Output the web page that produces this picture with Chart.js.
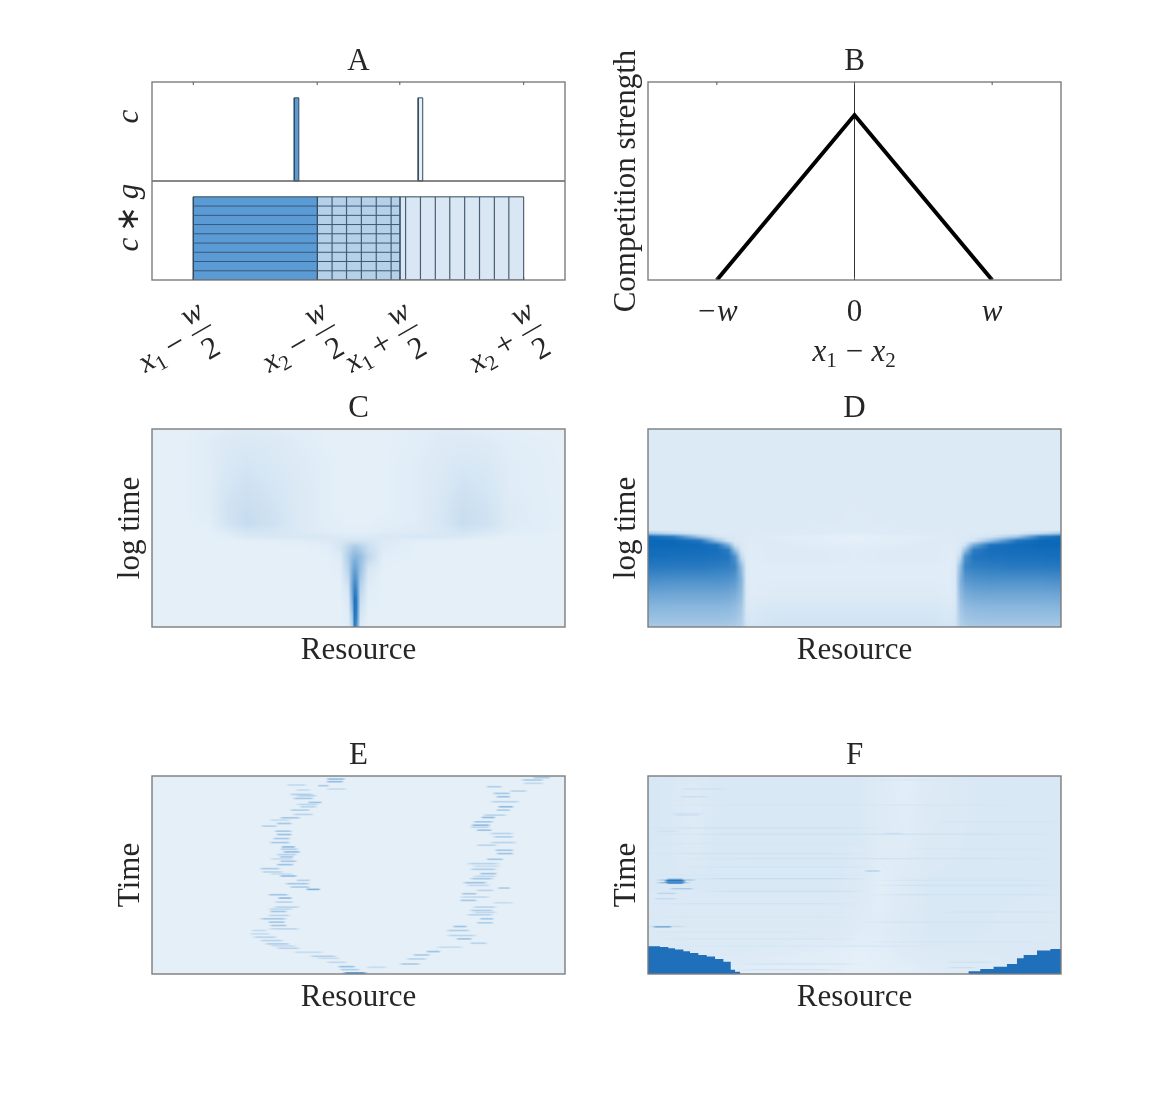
<!DOCTYPE html>
<html>
<head>
<meta charset="utf-8">
<title>Resource competition panels</title>
<script src="https://cdn.jsdelivr.net/npm/chart.js@4"></script>
<style>
  body { margin: 0; background: #fff; }
  #page { position: relative; width: 1172px; height: 1094px; overflow: hidden; }
  canvas { position: absolute; }
</style>
</head>
<body>
<div id="page"></div>
<script>
// Panel A: niche positions, in axis units
const aTicks = [1, 4, 6, 9];
const aTickSubs = ['1', '2', '1', '2'];
const aTickOps = ['\u2212', '\u2212', '+', '+'];
const cPositions = [3.5, 6.5];
const cHalfWidth = 0.055;
const cTop = 1.84;
const gTop = 0.84;
const gRows = [0.747, 0.653, 0.56, 0.467, 0.373, 0.28, 0.187, 0.093];
const gColumns = [4.36, 4.71, 5.07, 5.43, 5.79, 6.14, 6.5, 6.86, 7.21, 7.57, 7.93, 8.29, 8.64];

// Panel B: competition kernel
const bTicks = [-1, 0, 1];
const bTickLabels = ['\u2212w', '0', 'w'];
const kernelX = [-1, 0, 1];
const kernelY = [0, 1, 0];

// Panel C: density (percent of the colour ramp), rows from top to bottom
const cCols = [36, 130, 210, 260, 320, 400, 480, 560, 600, 625, 637, 643, 649, 661, 685, 730, 830, 900, 970, 1040, 1110, 1275];
const cRows = [28, 70, 130, 200, 270, 310, 335, 350, 362, 380, 410, 450, 500, 540, 580, 620];
const cValues = [
  [0, 0, 1, 2, 3, 2, 1, 0, 0, 0, 0, 0, 0, 0, 0, 0, 1, 2, 2, 1, 0, 0],
  [0, 0, 2, 4, 5, 4, 2, 0, 0, 0, 0, 0, 0, 0, 0, 0, 1, 3, 4, 3, 1, 0],
  [0, 0, 2, 5, 7, 5, 3, 1, 0, 0, 0, 0, 0, 0, 0, 0, 2, 4, 6, 5, 2, 0],
  [0, 0, 2, 7, 10, 7, 4, 1, 0, 0, 0, 0, 0, 0, 0, 0, 2, 5, 9, 7, 2, 0],
  [0, 0, 2, 9, 13, 9, 4, 1, 0, 0, 0, 0, 0, 0, 0, 0, 2, 6, 12, 9, 3, 0],
  [0, 0, 1, 8, 14, 10, 4, 1, 1, 0, 0, 0, 0, 0, 0, 1, 2, 6, 13, 10, 3, 0],
  [0, 0, 0, 3, 8, 7, 4, 2, 1, 1, 1, 1, 1, 1, 1, 2, 3, 5, 8, 6, 2, 0],
  [0, 0, 0, 1, 5, 6, 6, 5, 4, 4, 4, 4, 4, 4, 4, 5, 6, 6, 5, 2, 0, 0],
  [0, 0, 0, 0, 0, 1, 2, 4, 6, 8, 8, 8, 8, 8, 7, 4, 1, 1, 0, 0, 0, 0],
  [0, 0, 0, 0, 0, 0, 0, 1, 7, 18, 24, 26, 26, 22, 12, 3, 0, 0, 0, 0, 0, 0],
  [0, 0, 0, 0, 0, 0, 0, 0, 3, 25, 38, 42, 42, 36, 17, 1, 0, 0, 0, 0, 0, 0],
  [0, 0, 0, 0, 0, 0, 0, 0, 1, 20, 48, 58, 56, 34, 6, 0, 0, 0, 0, 0, 0, 0],
  [0, 0, 0, 0, 0, 0, 0, 0, 0, 9, 56, 78, 74, 22, 2, 0, 0, 0, 0, 0, 0, 0],
  [0, 0, 0, 0, 0, 0, 0, 0, 0, 4, 48, 92, 88, 14, 1, 0, 0, 0, 0, 0, 0, 0],
  [0, 0, 0, 0, 0, 0, 0, 0, 0, 2, 32, 90, 85, 8, 0, 0, 0, 0, 0, 0, 0, 0],
  [0, 0, 0, 0, 0, 0, 0, 0, 0, 1, 18, 85, 72, 3, 0, 0, 0, 0, 0, 0, 0, 0]
];

// Panel D
const dCols = [24, 100, 180, 230, 265, 285, 304, 319, 334, 400, 520, 640, 760, 880, 930, 945, 960, 975, 1000, 1050, 1130, 1200, 1262];
const dRows = [28, 200, 300, 330, 340, 350, 362, 375, 390, 410, 440, 480, 520, 560, 600, 620];
const dValues = [
  [4, 4, 4, 4, 4, 4, 4, 4, 4, 4, 4, 4, 4, 4, 4, 4, 4, 4, 4, 4, 4, 4, 4],
  [4, 4, 4, 4, 4, 4, 4, 4, 4, 4, 4, 4, 4, 4, 4, 4, 4, 4, 4, 4, 4, 4, 4],
  [4, 4, 4, 4, 4, 4, 4, 4, 4, 4, 4, 3, 4, 4, 4, 4, 4, 4, 4, 4, 4, 4, 4],
  [4, 4, 4, 4, 4, 4, 4, 4, 4, 4, 3, 3, 3, 4, 4, 4, 4, 4, 4, 4, 4, 4, 4],
  [30, 15, 6, 4, 4, 4, 4, 4, 4, 3, 3, 2, 3, 3, 4, 4, 4, 4, 4, 4, 6, 15, 30],
  [98, 85, 30, 8, 5, 5, 4, 3, 3, 2, 1, 0, 1, 2, 3, 3, 4, 5, 5, 8, 30, 85, 98],
  [100, 100, 90, 35, 8, 5, 4, 3, 3, 3, 1, 0, 1, 3, 3, 3, 4, 5, 8, 35, 90, 100, 100],
  [100, 100, 98, 92, 50, 10, 5, 3, 2, 3, 2, 1, 2, 3, 2, 3, 5, 10, 50, 92, 98, 100, 100],
  [97, 97, 96, 95, 85, 35, 7, 3, 2, 3, 3, 2, 3, 3, 2, 3, 7, 35, 85, 95, 96, 97, 97],
  [95, 94, 94, 93, 90, 70, 15, 3, 2, 3, 3, 2, 3, 3, 2, 3, 15, 70, 90, 93, 94, 94, 95],
  [88, 87, 87, 85, 83, 78, 38, 4, 2, 2, 2, 2, 2, 2, 2, 4, 38, 78, 83, 85, 87, 87, 88],
  [72, 70, 70, 70, 68, 64, 44, 5, 2, 2, 2, 2, 2, 2, 2, 5, 44, 64, 68, 70, 70, 70, 72],
  [56, 55, 55, 55, 54, 50, 38, 5, 2, 3, 3, 3, 3, 3, 2, 5, 38, 50, 54, 55, 55, 55, 56],
  [43, 42, 42, 42, 41, 38, 30, 6, 4, 6, 6, 6, 6, 6, 4, 6, 30, 38, 41, 42, 42, 42, 43],
  [33, 33, 33, 33, 32, 30, 24, 8, 6, 8, 8, 8, 8, 8, 6, 8, 24, 30, 32, 33, 33, 33, 33],
  [28, 28, 28, 28, 27, 26, 22, 9, 7, 9, 9, 9, 9, 9, 7, 9, 22, 26, 27, 28, 28, 28, 28]
];

// Panel E: dashes along the two paths, [time row, resource from, resource to, level]
const eLeftPath = [
  [622, 620, 670, 70], [612, 610, 650, 24], [603, 605, 635, 34], [590, 570, 610, 16], [578, 540, 590, 14], [572, 520, 580, 22], [560, 470, 540, 14],
  [548, 420, 470, 20], [541, 400, 460, 14], [535, 385, 440, 24], [525, 370, 420, 20], [515, 350, 400, 20], [505, 340, 380, 14],
  [495, 345, 370, 14], [490, 395, 470, 18], [480, 400, 430, 28], [470, 395, 425, 30], [460, 370, 430, 28],
  [450, 395, 440, 20], [438, 400, 430, 30], [431, 395, 450, 16], [425, 410, 470, 20], [410, 415, 450, 20], [398, 425, 445, 38],
  [388, 395, 435, 30], [372, 510, 530, 45], [365, 460, 500, 26], [355, 445, 500, 28], [345, 480, 500, 22],
  [332, 430, 460, 36], [326, 400, 450, 14], [320, 375, 420, 20], [310, 370, 410, 26], [298, 420, 450, 32], [288, 430, 460, 28],
  [281, 400, 450, 14], [275, 430, 450, 28], [268, 420, 460, 22], [260, 440, 470, 36], [252, 430, 465, 24], [245, 435, 455, 38], [232, 400, 440, 28], [220, 410, 440, 28],
  [208, 420, 445, 34], [198, 415, 445, 28], [183, 375, 400, 22], [175, 420, 445, 28], [165, 400, 440, 14], [158, 430, 470, 28],
  [148, 470, 510, 20], [135, 460, 500, 24], [125, 490, 520, 20], [118, 480, 525, 18], [112, 515, 535, 32], [100, 470, 510, 28],
  [92, 480, 520, 22], [88, 460, 510, 24], [75, 480, 500, 14], [60, 450, 490, 16], [62, 545, 555, 26], [72, 570, 610, 14], [50, 570, 600, 36], [42, 570, 605, 36]
];
const eRightPath = [
  [605, 690, 730, 14], [595, 790, 830, 26], [580, 810, 850, 20], [568, 830, 860, 26], [558, 870, 890, 32],
  [545, 900, 960, 14], [533, 1000, 1030, 20], [520, 960, 985, 32], [510, 930, 1000, 20], [495, 930, 980, 24],
  [483, 950, 970, 32], [472, 1020, 1050, 24], [460, 1030, 1050, 28], [448, 990, 1050, 20], [441, 1010, 1060, 16], [435, 1000, 1050, 24],
  [425, 1010, 1060, 20], [412, 1070, 1110, 14], [405, 970, 1000, 28], [395, 970, 1040, 16], [385, 975, 1000, 28],
  [375, 1020, 1050, 20], [368, 1085, 1100, 26], [360, 990, 1040, 16], [352, 980, 1030, 32], [340, 1000, 1050, 28], [333, 1010, 1060, 16], [325, 1030, 1060, 32],
  [312, 1000, 1060, 24], [303, 1010, 1070, 14], [295, 990, 1070, 20], [282, 1050, 1080, 28], [265, 1080, 1110, 32], [255, 1075, 1110, 30],
  [240, 1020, 1060, 20], [232, 1060, 1120, 20], [215, 1070, 1110, 24], [205, 1060, 1110, 20], [195, 1020, 1045, 32],
  [186, 1000, 1040, 18], [180, 1005, 1040, 38], [170, 1010, 1050, 30], [157, 1035, 1055, 38], [150, 1040, 1090, 20], [135, 1080, 1100, 26],
  [125, 1085, 1110, 38], [110, 1060, 1130, 20], [95, 1080, 1100, 32], [85, 1070, 1100, 28], [78, 1120, 1150, 20],
  [65, 1050, 1075, 24], [55, 1160, 1200, 16], [45, 1155, 1200, 26], [38, 1190, 1220, 26]
];

// Panel F: slow background, thin dashes and the two stepped blocks
const fCols = [24, 90, 160, 220, 400, 600, 660, 720, 800, 860, 1000, 1262];
const fRows = [33, 200, 350, 500, 560, 625];
const fValues = [
  [6, 5, 4, 5, 5, 5, 5, 3, 1, 3, 5, 5],
  [6, 5, 3, 5, 5, 5, 5, 3, 2, 4, 5, 5],
  [5, 5, 5, 5, 5, 5, 4, 1, 3, 5, 5, 5],
  [4, 4, 4, 4, 4, 4, 2, 2, 4, 5, 5, 4],
  [5, 5, 4, 4, 3, 1, 0, 1, 3, 4, 4, 5],
  [3, 3, 3, 2, 1, 0, 0, 0, 1, 2, 3, 4]
];
const fDashes = [
  [45, 24, 1262, 6], [72, 130, 250, 11], [95, 130, 195, 13], [120, 24, 1262, 7], [145, 100, 180, 10],
  [150, 110, 170, 12], [170, 900, 1262, 8], [188, 24, 720, 10], [198, 60, 110, 10], [205, 740, 775, 15],
  [207, 40, 1262, 10], [235, 24, 700, 7], [250, 800, 1262, 7], [265, 24, 680, 9], [280, 120, 1262, 9],
  [305, 130, 700, 9], [317, 685, 710, 24], [330, 24, 680, 7], [340, 160, 680, 13], [345, 720, 1262, 8],
  [360, 700, 1262, 10], [378, 190, 680, 11], [388, 700, 1262, 10], [415, 30, 660, 9], [440, 900, 1262, 9],
  [455, 24, 640, 7], [470, 670, 1262, 9], [500, 30, 500, 8], [520, 40, 640, 8], [530, 700, 1262, 7],
  [542, 100, 900, 7], [590, 930, 1050, 10], [595, 300, 650, 9], [612, 290, 600, 8], [606, 930, 1000, 11],
  [344, 60, 160, 32], [352, 60, 140, 38], [342, 90, 120, 60], [354, 90, 120, 65], [346, 85, 125, 90], [350, 85, 125, 90],
  [370, 100, 150, 28], [384, 60, 100, 20],
  [400, 55, 100, 16], [483, 30, 130, 15], [484, 50, 85, 55]
];
const fLeftBlockX = [24, 60, 85, 105, 130, 150, 175, 200, 225, 250, 272, 285, 300, 320];
const fLeftBlockY = [545, 542, 544, 548, 552, 557, 562, 568, 573, 580, 588, 612, 618, 625];
const fRightBlockX = [955, 985, 1020, 1060, 1100, 1130, 1150, 1190, 1230, 1262];
const fRightBlockY = [625, 617, 610, 603, 595, 578, 568, 555, 550, 545];

const SERIF = '"Liberation Serif", "Times New Roman", serif';
const INK = '#262626';
const FONT_SIZE = 31;

function rampColor(level, alpha) {
  const t = Math.min(1, level / 100);
  const r = Math.round(228 - t * 216), g = Math.round(239 - t * 135), b = Math.round(248 - t * 64);
  return alpha === undefined ? [r, g, b] : `rgba(${r},${g},${b},${alpha})`;
}

function segmentIndex(nodes, v) {
  let i = 0;
  while (i < nodes.length - 2 && nodes[i + 1] < v) i++;
  return i;
}

// Shades a grid of levels, and thin dashes on top, through the chart's scales
function heatmapPlugin(cols, rows, values, dashes, dashHalf, blur) {
  return {
    id: 'heatmap',
    beforeDatasetsDraw(chart) {
      const { ctx, chartArea: area, scales } = chart;
      const w = Math.round(area.right - area.left), h = Math.round(area.bottom - area.top);
      const off = document.createElement('canvas');
      off.width = w; off.height = h;
      const octx = off.getContext('2d');
      const img = octx.createImageData(w, h);
      for (let py = 0; py < h; py++) {
        const v = scales.y.getValueForPixel(area.top + py + 0.5);
        const j = segmentIndex(rows, v);
        const fy = Math.max(0, Math.min(1, (v - rows[j]) / (rows[j + 1] - rows[j])));
        for (let px = 0; px < w; px++) {
          const u = scales.x.getValueForPixel(area.left + px + 0.5);
          const i = segmentIndex(cols, u);
          const fx = Math.max(0, Math.min(1, (u - cols[i]) / (cols[i + 1] - cols[i])));
          const top = values[j][i] * (1 - fx) + values[j][i + 1] * fx;
          const bot = values[j + 1][i] * (1 - fx) + values[j + 1][i + 1] * fx;
          const c = rampColor(top * (1 - fy) + bot * fy);
          const k = (py * w + px) * 4;
          img.data[k] = c[0]; img.data[k + 1] = c[1]; img.data[k + 2] = c[2]; img.data[k + 3] = 255;
        }
      }
      octx.putImageData(img, 0, 0);
      ctx.drawImage(off, area.left, area.top, area.right - area.left, area.bottom - area.top);

      ctx.save();
      ctx.beginPath();
      ctx.rect(area.left, area.top, area.right - area.left, area.bottom - area.top);
      ctx.clip();
      if (blur) ctx.filter = `blur(${blur}px)`;
      (dashes || []).forEach(([row, from, to, level]) => {
        const x0 = scales.x.getPixelForValue(from - 14), x1 = scales.x.getPixelForValue(to + 14);
        const y0 = scales.y.getPixelForValue(row - dashHalf), y1 = scales.y.getPixelForValue(row + dashHalf);
        const grad = ctx.createLinearGradient(x0, 0, x1, 0);
        grad.addColorStop(0, rampColor(level, 0));
        grad.addColorStop(0.2, rampColor(level, 1));
        grad.addColorStop(0.8, rampColor(level, 1));
        grad.addColorStop(1, rampColor(level, 0));
        ctx.fillStyle = grad;
        ctx.fillRect(x0, y0, x1 - x0, y1 - y0);
      });
      ctx.restore();
    }
  };
}

// Grey box round the plot, with short inward ticks at the x scale's ticks
const framePlugin = {
  id: 'frame',
  afterDraw(chart) {
    const { ctx, chartArea: a, scales } = chart;
    ctx.save();
    ctx.strokeStyle = '#7d7d7d';
    ctx.lineWidth = 1.4;
    ctx.strokeRect(a.left, a.top, a.right - a.left, a.bottom - a.top);
    if (scales.x.options.ticks.display || chart.canvas.id === 'panelA') {
      ctx.lineWidth = 1;
      ctx.strokeStyle = '#555';
      scales.x.ticks.forEach(t => {
        const x = scales.x.getPixelForValue(t.value);
        ctx.beginPath();
        ctx.moveTo(x, a.top); ctx.lineTo(x, a.top + 3);
        ctx.moveTo(x, a.bottom); ctx.lineTo(x, a.bottom - 3);
        ctx.stroke();
      });
    }
    ctx.restore();
  }
};

function setFont(ctx, italic, size) {
  ctx.font = `${italic ? 'italic ' : ''}${size}px ${SERIF}`;
}

function drawX(ctx, sub, x, y) {
  setFont(ctx, true, FONT_SIZE);
  ctx.textAlign = 'left';
  ctx.fillText('x', x, y);
  const wx = ctx.measureText('x').width;
  setFont(ctx, false, 21);
  ctx.fillText(sub, x + wx, y + 6);
}

// Rotated "x1 - w/2" labels under panel A, one per x tick
const aLabelPlugin = {
  id: 'aLabels',
  afterDraw(chart) {
    const { ctx, chartArea: a, scales } = chart;
    ctx.save();
    ctx.fillStyle = INK;
    ctx.strokeStyle = INK;
    aTicks.forEach((tick, i) => {
      ctx.save();
      ctx.translate(scales.x.getPixelForValue(tick) - 48, a.bottom + 93);
      ctx.rotate(-30 * Math.PI / 180);
      ctx.textBaseline = 'alphabetic';
      drawX(ctx, aTickSubs[i], 0, 0);
      setFont(ctx, false, 33);
      ctx.textAlign = 'center';
      ctx.fillText(aTickOps[i], 40, 0);
      setFont(ctx, true, FONT_SIZE);
      ctx.fillText('w', 70, -19);
      setFont(ctx, false, FONT_SIZE);
      ctx.fillText('2', 69, 21);
      ctx.lineWidth = 1.4;
      ctx.beginPath();
      ctx.moveTo(59, -9); ctx.lineTo(81, -9);
      ctx.stroke();
      ctx.restore();
    });
    // y labels of the two sub-panels
    ctx.textAlign = 'center';
    ctx.textBaseline = 'alphabetic';
    [[1.65, ['c']], [0.63, ['c', '\u2009\u2217\u2009', 'g']]].forEach(([v, parts]) => {
      ctx.save();
      ctx.translate(a.left - 14, scales.y.getPixelForValue(v));
      ctx.rotate(-Math.PI / 2);
      setFont(ctx, true, FONT_SIZE);
      ctx.textAlign = 'left';
      const widths = parts.map((t, i) => { setFont(ctx, i % 2 === 0, FONT_SIZE); return ctx.measureText(t).width; });
      let x = -widths.reduce((s, d) => s + d, 0) / 2;
      parts.forEach((t, i) => {
        setFont(ctx, i % 2 === 0, FONT_SIZE);
        ctx.fillText(t, x, 0);
        x += widths[i];
      });
      ctx.restore();
    });
    ctx.restore();
  }
};

// "x1 - x2" under panel B
const bLabelPlugin = {
  id: 'bLabel',
  afterDraw(chart) {
    const { ctx, chartArea: a, scales } = chart;
    const cx = scales.x.getPixelForValue(0);
    ctx.save();
    ctx.fillStyle = INK;
    ctx.textBaseline = 'alphabetic';
    drawX(ctx, '1', cx - 42, a.bottom + 81);
    setFont(ctx, false, FONT_SIZE);
    ctx.textAlign = 'center';
    ctx.fillText('\u2212', cx, a.bottom + 81);
    drawX(ctx, '2', cx + 17, a.bottom + 81);
    ctx.restore();
  }
};

function panelOptions(p) {
  const font = { family: SERIF, size: FONT_SIZE, lineHeight: 1, weight: 'normal' };
  const hidden = { display: false };
  return {
    responsive: false,
    animation: false,
    events: [],
    layout: { padding: { left: 0, right: 20, top: 0, bottom: 0 } },
    plugins: {
      legend: hidden,
      tooltip: { enabled: false },
      title: {
        display: true, text: p.title, color: INK, font,
        fullSize: false, padding: { top: 2, bottom: 5 }
      }
    },
    scales: {
      x: {
        type: 'linear', min: p.xMin, max: p.xMax,
        grid: hidden, border: hidden,
        ticks: p.xTicks || hidden,
        afterBuildTicks: p.xTickValues ? s => { s.ticks = p.xTickValues.map(value => ({ value })); } : undefined,
        title: { display: !!p.xTitle, text: p.xTitle, color: INK, font, padding: { top: 0, bottom: 6 } },
        afterFit: s => { s.height = p.bottom; }
      },
      y: {
        type: 'linear', min: p.yMin, max: p.yMax, reverse: !!p.yReverse,
        grid: hidden, border: hidden, ticks: hidden,
        title: { display: !!p.yTitle, text: p.yTitle, color: INK, font, padding: { top: 11, bottom: 0 } },
        afterFit: s => { s.width = 48; }
      }
    }
  };
}

// plotLeft/plotTop are where the plot box sits on the page
function addPanel(id, plotLeft, plotTop, bottom, data, options, plugins) {
  const canvas = document.createElement('canvas');
  canvas.id = id;
  const width = 48 + 413 + 20, height = 38 + 198 + bottom;
  canvas.width = width; canvas.height = height;
  canvas.style.width = width + 'px'; canvas.style.height = height + 'px';
  canvas.style.left = (plotLeft - 48) + 'px';
  canvas.style.top = (plotTop - 38) + 'px';
  document.getElementById('page').appendChild(canvas);
  options.bottom = bottom;
  return new Chart(canvas, { type: 'scatter', data: { datasets: data }, options: panelOptions(options), plugins: [...plugins, framePlugin] });
}

function lineSet(points, color, width, extra) {
  return Object.assign({ data: points, showLine: true, pointRadius: 0, borderColor: color, borderWidth: width, fill: false }, extra);
}

function rect(x0, x1, y0, y1) {
  return [{ x: x0, y: y0 }, { x: x1, y: y0 }, { x: x1, y: y1 }, { x: x0, y: y1 }, { x: x0, y: y0 }];
}

const HATCH = '#34495c';
const aDatasets = [
  ...gRows.map(y => lineSet([{ x: aTicks[0], y }, { x: aTicks[2], y }], '#3a5878', 1)),
  ...gColumns.map(x => lineSet([{ x, y: 0 }, { x, y: gTop }], '#4a5f72', 1.2)),
  lineSet([{ x: 0, y: 1 }, { x: 10, y: 1 }], '#5f5f5f', 1.3),
  lineSet(rect(aTicks[0], aTicks[1], 0, gTop), HATCH, 1, { fill: 'shape', backgroundColor: '#5b9bd5' }),
  lineSet(rect(aTicks[1], aTicks[2], 0, gTop), HATCH, 1, { fill: 'shape', backgroundColor: '#b5d0e9' }),
  lineSet(rect(aTicks[2], aTicks[3], 0, gTop), HATCH, 1, { fill: 'shape', backgroundColor: '#d9e7f4' }),
  lineSet(rect(cPositions[0] - cHalfWidth, cPositions[0] + cHalfWidth, 1, cTop), HATCH, 1, { fill: 'shape', backgroundColor: '#5b9bd5' }),
  lineSet(rect(cPositions[1] - cHalfWidth, cPositions[1] + cHalfWidth, 1, cTop), HATCH, 1, { fill: 'shape', backgroundColor: '#e6eef6' })
];

addPanel('panelA', 152, 82, 100, aDatasets, {
  title: 'A', xMin: 0, xMax: 10, yMin: 0, yMax: 2, xTickValues: aTicks,
  xTicks: { display: false }
}, [aLabelPlugin]);

addPanel('panelB', 648, 82, 95, [
  lineSet(kernelX.map((x, i) => ({ x, y: kernelY[i] })), '#000', 4, { borderJoinStyle: 'miter' }),
  lineSet([{ x: 0, y: 0 }, { x: 0, y: 1.2 }], '#333', 1)
], {
  title: 'B', xMin: -1.5, xMax: 1.5, yMin: 0, yMax: 1.2, yTitle: 'Competition strength',
  xTickValues: bTicks,
  xTicks: {
    display: true, color: INK, padding: 9, maxRotation: 0, autoSkip: false,
    callback: v => bTickLabels[bTicks.indexOf(v)],
    font: c => ({ family: SERIF, size: FONT_SIZE, lineHeight: 1, style: c.tick && c.tick.value === 0 ? 'normal' : 'italic' })
  }
}, [bLabelPlugin]);

addPanel('panelC', 152, 429, 45, [], {
  title: 'C', xMin: 36, xMax: 1275, yMin: 28, yMax: 620, yReverse: true, xTitle: 'Resource', yTitle: 'log time'
}, [heatmapPlugin(cCols, cRows, cValues)]);

addPanel('panelD', 648, 429, 45, [], {
  title: 'D', xMin: 24, xMax: 1262, yMin: 28, yMax: 620, yReverse: true, xTitle: 'Resource', yTitle: 'log time'
}, [heatmapPlugin(dCols, dRows, dValues)]);

addPanel('panelE', 152, 776, 45, [], {
  title: 'E', xMin: 36, xMax: 1275, yMin: 33, yMax: 625, yReverse: true, xTitle: 'Resource', yTitle: 'Time'
}, [heatmapPlugin([36, 1275], [33, 625], [[0, 0], [0, 0]], [...eLeftPath, ...eRightPath], 2.5, 0.6)]);

const BLOCK = '#1f6fbb';
addPanel('panelF', 648, 776, 45, [
  lineSet(fLeftBlockX.map((x, i) => ({ x, y: fLeftBlockY[i] })), BLOCK, 0, { stepped: 'after', fill: 'start', backgroundColor: BLOCK }),
  lineSet(fRightBlockX.map((x, i) => ({ x, y: fRightBlockY[i] })), BLOCK, 0, { stepped: 'before', fill: 'start', backgroundColor: BLOCK })
], {
  title: 'F', xMin: 24, xMax: 1262, yMin: 33, yMax: 625, yReverse: true, xTitle: 'Resource', yTitle: 'Time'
}, [heatmapPlugin(fCols, fRows, fValues, fDashes, 2, 0.3)]);
</script>
</body>
</html>
